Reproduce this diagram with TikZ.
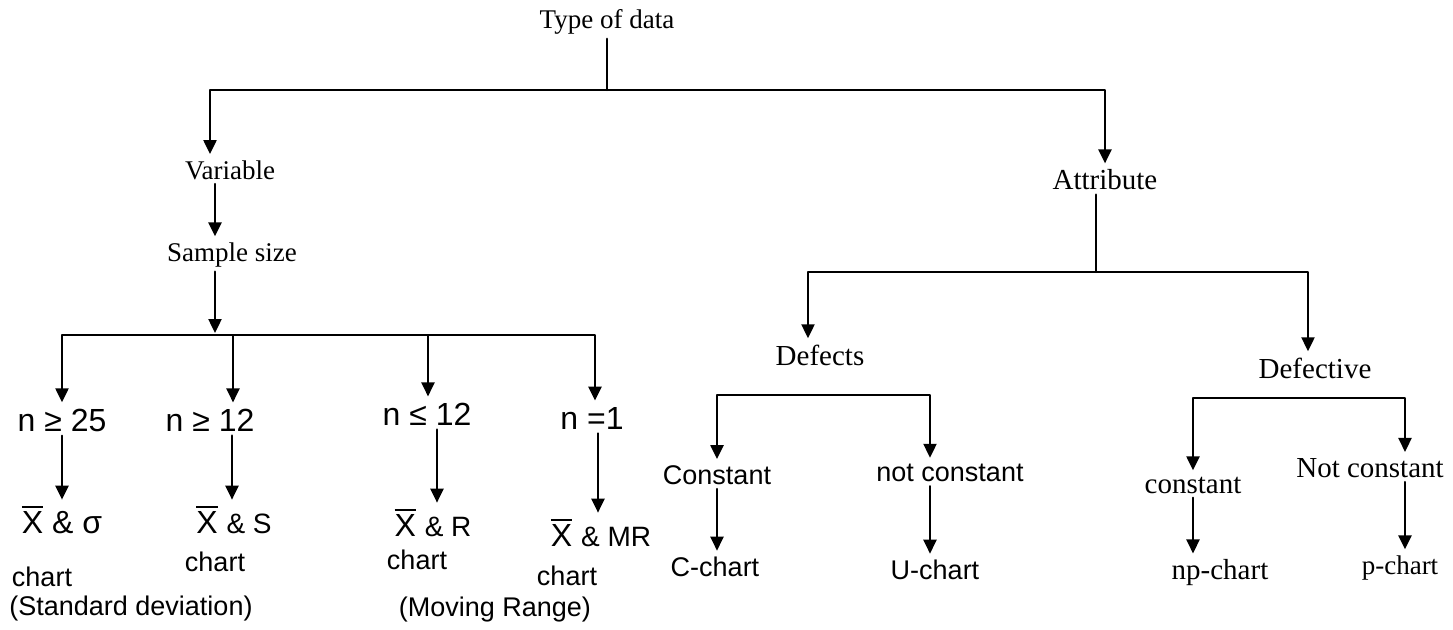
\documentclass[tikz,border=0pt]{standalone}
\usepackage{fontspec}
\setmainfont{Liberation Serif}
\newfontfamily\arialfont{Liberation Sans}
\usetikzlibrary{arrows.meta}

% X with a bar above it
\newcommand\xbar{\hbox{\vbox{\hrule height 0.8pt\kern 2pt\hbox{X}}}}

\begin{document}
\begin{tikzpicture}[x=0.5pt,y=-0.5pt,line cap=round,line join=round,
  serif/.style={font=\fontsize{13.5}{15}\selectfont,inner sep=2pt},
  serifb/.style={font=\fontsize{14.5}{16}\selectfont,inner sep=2pt},
  sans/.style={font=\arialfont\fontsize{13.5}{15}\selectfont,inner sep=2pt},
  big/.style={font=\arialfont\fontsize{16}{18}\selectfont,inner sep=2pt},
  ln/.style={line width=1.2pt},
  arr/.style={line width=1.2pt,-{Triangle[length=7pt,width=6.5pt]},shorten >=1pt}]
  \useasboundingbox (0,0) rectangle (1453,629);

  % first split
  \node[serif] (type) at (607,22) {Type of data};
  \coordinate (top) at (607,90);
  \node[serif] (var) at (230,170) {Variable};
  \node[serifb] (attr) at (1105,180) {Attribute};
  \draw[ln] (type) -- (top);
  \draw[arr] (top) -| ([xshift=-10pt]var.north);
  \draw[arr] (top) -| (attr.north);

  % variable side
  \node[serif] (samp) at (232,255) {Sample size};
  \draw[arr] ([xshift=-7.5pt]var.south) -- ([xshift=-8.5pt]samp.north);
  \coordinate (sj) at (215,335);
  \draw[arr] ([xshift=-8.5pt]samp.south) -- (sj);

  \node[big] (n25) at (62,420) {n ≥ 25};
  \node[big] (n12) at (210,420) {n ≥ 12};
  \node[big] (nl12) at (427,414) {n ≤ 12};
  \node[big] (n1) at (592,418) {n =1};
  \draw[arr] (sj) -| (n25.north);
  \draw[arr] (sj) -| ([xshift=11.5pt]n12.north);
  \draw[arr] (sj) -| ([xshift=0.5pt]nl12.north);
  \draw[arr] (sj) -| ([xshift=1.5pt]n1.north);

  \node[big] (xs) at (62,520) {\xbar\ \& σ};
  \node[big] (xS) at (234,520) {\xbar\ {\fontsize{14}{16}\selectfont\& S}};
  \node[big] (xR) at (433,523) {\xbar\ {\fontsize{14}{16}\selectfont\& R}};
  \node[big] (xMR) at (601,533) {\xbar\ {\fontsize{14}{16}\selectfont\& MR}};
  \draw[arr] (n25) -- (xs);
  \draw[arr] ([xshift=11pt]n12.south) -- ([xshift=-1pt]xS.north);
  \draw[arr] ([xshift=5pt]nl12.south) -- ([xshift=2pt]xR.north);
  \draw[arr] ([xshift=3pt]n1.south) -- ([xshift=-1.5pt]xMR.north);

  \node[sans] (ch1) at (42,577) {chart};
  \node[sans] (ch2) at (215,562) {chart};
  \node[sans] (ch3) at (417,560) {chart};
  \node[sans] (ch4) at (567,576) {chart};
  \node[sans] (sd) at (131,608) {(Standard deviation)};
  \node[sans] (mr) at (495,610) {(Moving Range)};

  % attribute side
  \coordinate (aj) at (1096,272);
  \draw[ln] ([xshift=-4.5pt]attr.south) -- (aj);
  \node[serifb] (dfs) at (820,355) {Defects};
  \node[serifb] (dfv) at (1315,368) {Defective};
  \draw[arr] (aj) -| ([xshift=-6pt]dfs.north);
  \draw[arr] (aj) -| ([xshift=-3.5pt]dfv.north);

  % defects
  \coordinate (dbar) at (820,395);
  \node[sans] (cst) at (717,475) {Constant};
  \node[sans] (ncst) at (950,473) {not constant};
  \draw[arr] (dbar) -| (cst.north);
  \draw[arr] (dbar) -| ([xshift=-10pt]ncst.north);
  \node[sans] (cch) at (715,567) {C-chart};
  \node[sans] (uch) at (935,570) {U-chart};
  \draw[arr] (cst) -- ([xshift=1pt]cch.north);
  \draw[arr] ([xshift=-10pt]ncst.south) -- ([xshift=-2.5pt]uch.north);

  % defective
  \coordinate (vbar) at (1300,398);
  \node[serifb] (cst2) at (1193,485) {constant};
  \node[serifb] (ncst2) at (1370,468) {Not constant};
  \draw[arr] (vbar) -| (cst2.north);
  \draw[arr] (vbar) -| ([xshift=17.5pt]ncst2.north);
  \node[serifb] (npch) at (1220,573) {np-chart};
  \node[serif] (pch) at (1400,568) {p-chart};
  \draw[arr] (cst2) -- ([xshift=-13.5pt]npch.north);
  \draw[arr] ([xshift=17.5pt]ncst2.south) -- ([xshift=2.5pt]pch.north);
\end{tikzpicture}
\end{document}
